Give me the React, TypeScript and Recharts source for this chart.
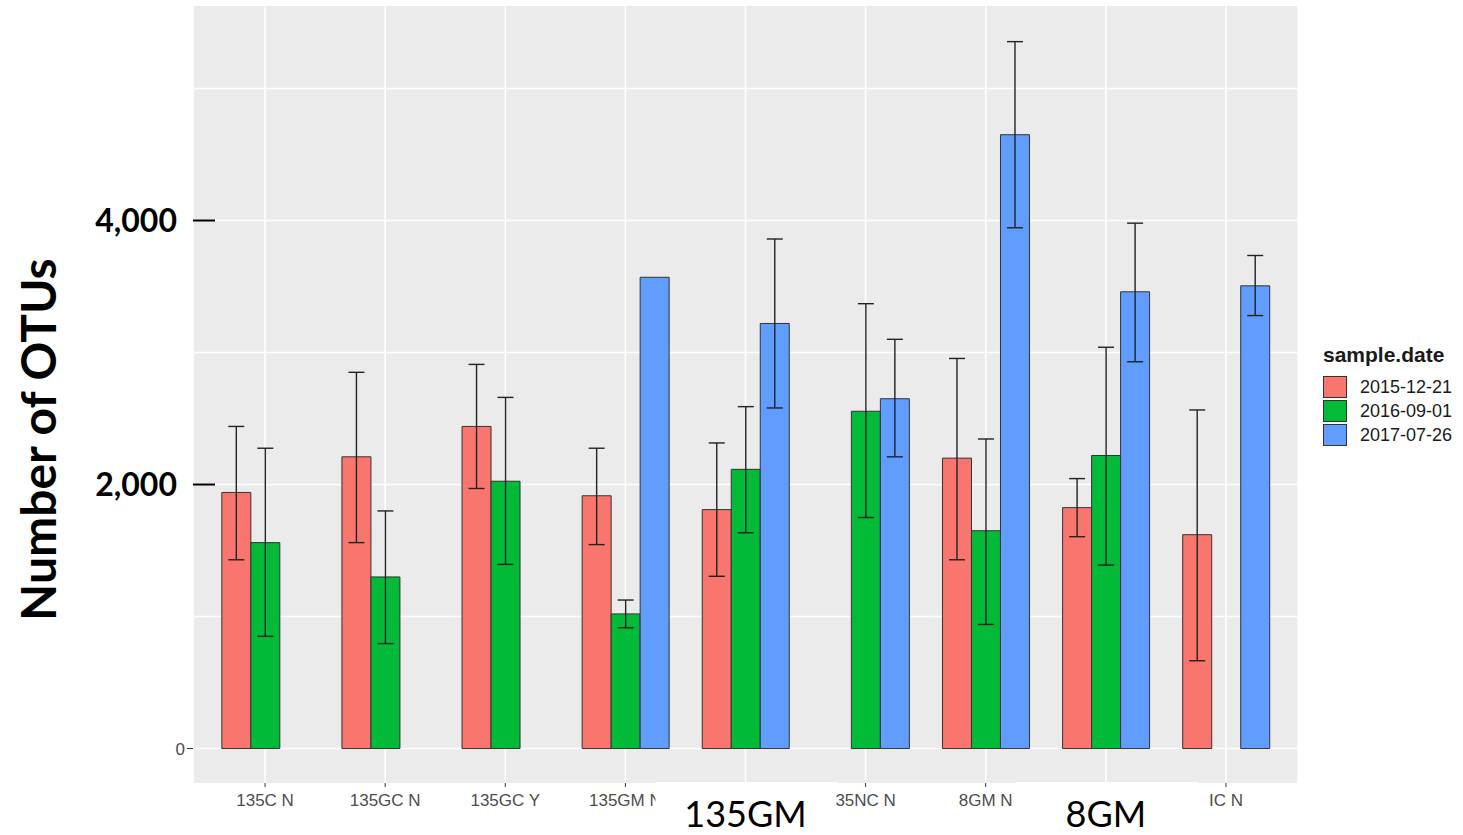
import React from 'react';
import { BarChart, Bar, XAxis, YAxis, CartesianGrid, ErrorBar, Legend } from 'recharts';

const categories = ["135C N", "135GC N", "135GC Y", "135GM N", "135GM", "35NC N", "8GM N", "8GM", "IC N"];
const seriesNames = ["2015-12-21", "2016-09-01", "2017-07-26"];
const seriesColors = ["#F8766D", "#00BA38", "#619CFF"];

const mean2015 = [1940, 2210, 2440, 1915, 1810, null, 2200, 1825, 1620];
const low2015 = [1430, 1560, 1970, 1545, 1305, null, 1430, 1605, 665];
const high2015 = [2440, 2850, 2910, 2275, 2315, null, 2955, 2045, 2565];

const mean2016 = [1560, 1300, 2025, 1020, 2115, 2555, 1650, 2220, null];
const low2016 = [850, 795, 1395, 915, 1635, 1750, 940, 1390, null];
const high2016 = [2275, 1800, 2660, 1125, 2590, 3370, 2345, 3040, null];

const mean2017 = [null, null, null, 3570, 3220, 2650, 4650, 3460, 3505];
const low2017 = [null, null, null, null, 2580, 2210, 3945, 2930, 3280];
const high2017 = [null, null, null, null, 3860, 3100, 5355, 3980, 3735];

const yTicks = [0, 2000, 4000];
const gridValues = [0, 1000, 2000, 3000, 4000, 5000];
const yDomain = [-261, 5625];
const bigLabels = ["135GM", "8GM"];
const yTitle = "Number of OTUs";
const legendTitle = "sample.date";

type Num = number | null;
const errOf = (m: Num, lo: Num, hi: Num) =>
  m == null || lo == null || hi == null ? null : [m - lo, hi - m];

const data = categories.map((cat, i) => ({
  cat,
  s0: mean2015[i],
  e0: errOf(mean2015[i], low2015[i], high2015[i]),
  s1: mean2016[i],
  e1: errOf(mean2016[i], low2016[i], high2016[i]),
  s2: mean2017[i],
  e2: errOf(mean2017[i], low2017[i], high2017[i]),
}));

const SANS = "'Liberation Sans', Arial, sans-serif";

const XTick = (props: any) => {
  const { x, y, payload } = props;
  const label = payload.value as string;
  if (bigLabels.includes(label)) {
    return (
      <g>
        <rect x={x - 90} y={y - 7} width={182} height={60} fill="#FFFFFF" />
        <text x={x} y={y + 38} textAnchor="middle" fontFamily="Lato" fontSize={36} fill="#000">
          {label}
        </text>
      </g>
    );
  }
  return (
    <g>
      <line x1={x} x2={x} y1={y - 6} y2={y - 2} stroke="#333" strokeWidth={1} />
      <text x={x} y={y + 17} textAnchor="middle" fontFamily={SANS} fontSize={17} fill="#4D4D4D">
        {label}
      </text>
    </g>
  );
};

const YTick = (props: any) => {
  const { x, y, payload } = props;
  const v = payload.value as number;
  if (v === 0) {
    return (
      <g>
        <line x1={x - 6} x2={x} y1={y} y2={y} stroke="#333" strokeWidth={1} />
        <text x={x - 8} y={y + 6} textAnchor="end" fontFamily={SANS} fontSize={17} fill="#4D4D4D">
          0
        </text>
      </g>
    );
  }
  return (
    <g>
      <line x1={x} x2={x + 22} y1={y} y2={y} stroke="#000" strokeWidth={2} />
      <text x={x - 16} y={y + 11} textAnchor="end" fontFamily="Lato" fontWeight={700} fontSize={32} fill="#000">
        {v.toLocaleString('en-US')}
      </text>
    </g>
  );
};

const YTitle = (props: any) => {
  const vb = props.viewBox || { x: 0, y: 0, width: 0, height: 0 };
  const cx = vb.x + 56;
  const cy = vb.y + vb.height / 2 + 45;
  return (
    <text
      x={cx}
      y={cy}
      transform={`rotate(-90, ${cx}, ${cy})`}
      textAnchor="middle"
      fontFamily="Lato"
      fontWeight={700}
      fontSize={48}
      fill="#000"
    >
      {yTitle}
    </text>
  );
};

const renderLegend = (props: any) => {
  const payload = props.payload || [];
  return (
    <div style={{ fontFamily: SANS }}>
      <div style={{ fontSize: 21, fontWeight: 700, color: '#1A1A1A', height: 33, lineHeight: '26px' }}>
        {legendTitle}
      </div>
      {payload.map((item: any, i: number) => (
        <div key={i} style={{ display: 'flex', alignItems: 'center', height: 24 }}>
          <div
            style={{
              width: 24,
              height: 22,
              boxSizing: 'border-box',
              border: '1.5px solid #333',
              background: item.color,
              marginRight: 13,
            }}
          />
          <span style={{ fontSize: 18, color: '#1A1A1A' }}>{item.value}</span>
        </div>
      ))}
    </div>
  );
};

export default function App() {
  return (
    <div style={{ width: 1463, height: 835, background: '#FFFFFF', fontFamily: SANS }}>
      <style>{'body{margin:0;}'}</style>
      <BarChart
        width={1463}
        height={835}
        data={data}
        margin={{ top: 6, right: 165, bottom: 0, left: 0 }}
        barCategoryGap="14%"
        barGap={0}
      >
        <CartesianGrid
          fill="#EBEBEB"
          fillOpacity={1}
          stroke="#FFFFFF"
          strokeWidth={1.6}
          horizontalValues={gridValues}
        />
        <XAxis
          dataKey="cat"
          height={52}
          padding={{ left: 12, right: 12 }}
          axisLine={false}
          tickLine={false}
          tickSize={4}
          tick={<XTick />}
          interval={0}
        />
        <YAxis
          width={193}
          domain={yDomain}
          ticks={yTicks}
          allowDataOverflow
          axisLine={false}
          tickLine={false}
          tickSize={0}
          tickMargin={0}
          tick={<YTick />}
          label={<YTitle />}
        />
        <Legend
          layout="horizontal"
          verticalAlign="middle"
          align="center"
          wrapperStyle={{ position: 'absolute', left: 1323, top: 342, width: 140, height: 110 }}
          content={renderLegend}
        />
        {[0, 1, 2].map((k) => (
          <Bar
            key={k}
            dataKey={`s${k}`}
            name={seriesNames[k]}
            fill={seriesColors[k]}
            stroke="#333"
            strokeWidth={1}
            isAnimationActive={false}
          >
            <ErrorBar dataKey={`e${k}`} width={8} stroke="#222" strokeWidth={1.4} direction="y" />
          </Bar>
        ))}
      </BarChart>
    </div>
  );
}
